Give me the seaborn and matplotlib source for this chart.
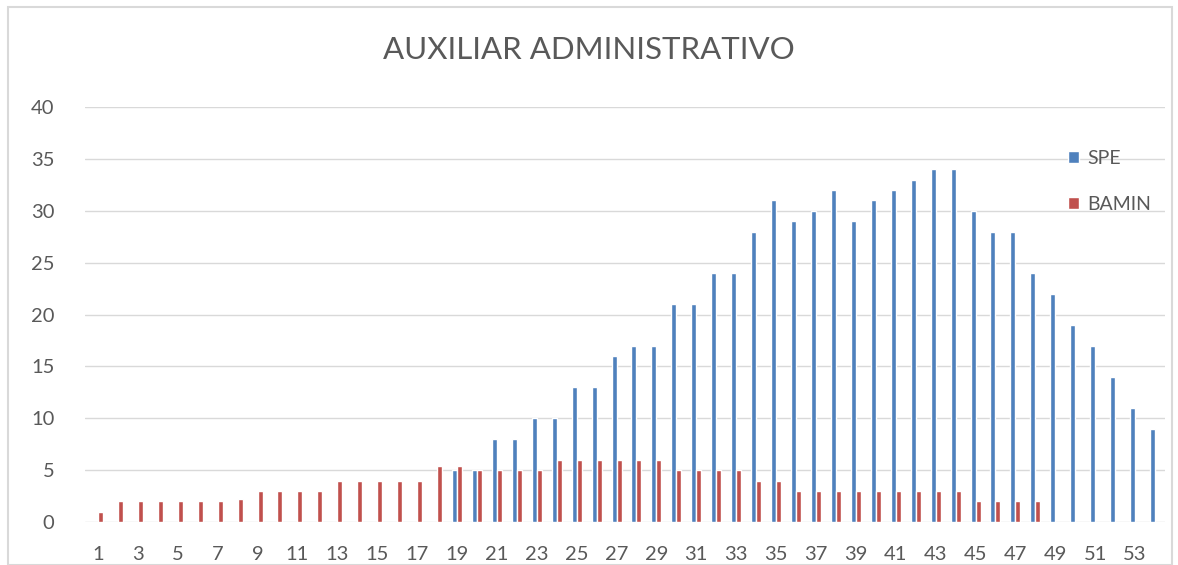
import pandas as pd
import numpy as np
import matplotlib.pyplot as plt
import seaborn as sns
from matplotlib.patches import Rectangle

sns.set_style("white")
plt.rcParams['font.family'] = ['Lato', 'DejaVu Sans']

# Data
weeks = list(range(1, 55))
spe = [0, 0, 0, 0, 0, 0, 0, 0, 0, 0, 0, 0, 0, 0, 0, 0, 0, 0,
       5, 5, 8, 8, 10, 10, 13, 13, 16, 17, 17, 21, 21, 24, 24, 28, 31, 29,
       30, 32, 29, 31, 32, 33, 34, 34, 30, 28, 28, 24, 22, 19, 17, 14, 11, 9]
bamin = [1, 2, 2, 2, 2, 2, 2, 2.2, 3, 3, 3, 3, 4, 4, 4, 4, 4, 5.4,
         5.4, 5, 5, 5, 5, 6, 6, 6, 6, 6, 6, 5, 5, 5, 5, 4, 4, 3,
         3, 3, 3, 3, 3, 3, 3, 3, 2, 2, 2, 2, 0, 0, 0, 0, 0, 0]
series = ["SPE", "BAMIN"]
colors = ["#4F81BD", "#C0504D"]

df = pd.DataFrame({"week": weeks * 2,
                   "value": spe + bamin,
                   "serie": ["SPE"] * len(weeks) + ["BAMIN"] * len(weeks)})
df["week"] = df["week"].astype(str)

fig = plt.figure(figsize=(11.78, 5.65), dpi=100)
ax = fig.add_axes([85 / 1178, 43 / 565, 1080 / 1178, 415 / 565])

sns.barplot(data=df, x="week", y="value", hue="serie", hue_order=series,
            order=[str(w) for w in weeks], palette=colors, width=0.5,
            saturation=1, ax=ax)

ax.set_ylim(0, 40)
ax.set_xlim(-0.65, 53.5)
ax.set_yticks(range(0, 41, 5))
ax.set_xticks(range(0, 54, 2))
ax.set_xticklabels([str(w) for w in weeks[::2]])
ax.tick_params(axis="both", length=0, labelsize=14.5, colors="#595959")
ax.tick_params(axis="y", pad=22)
ax.tick_params(axis="x", pad=17)
ax.set_xlabel("")
ax.set_ylabel("")
ax.yaxis.grid(True, color="#D9D9D9", linewidth=1)
ax.set_axisbelow(True)
for s in ax.spines.values():
    s.set_visible(False)

fig.suptitle("AUXILIAR ADMINISTRATIVO", y=1 - 50 / 565, va="center",
             fontsize=22.5, color="#595959")

leg = ax.legend(loc="upper left", bbox_to_anchor=(1060 / 1178, 1 - 142 / 565),
                bbox_transform=fig.transFigure, frameon=False, fontsize=14,
                handlelength=0.6, handleheight=0.6, handletextpad=0.4,
                labelspacing=1.5, borderaxespad=0)
for t in leg.get_texts():
    t.set_color("#595959")

fig.patches.append(Rectangle((8 / 1178, 0), 1164 / 1178, 1 - 7 / 565,
                             transform=fig.transFigure, fill=False,
                             edgecolor="#D9D9D9", linewidth=1.5))

fig.savefig("out.png", dpi=100)
